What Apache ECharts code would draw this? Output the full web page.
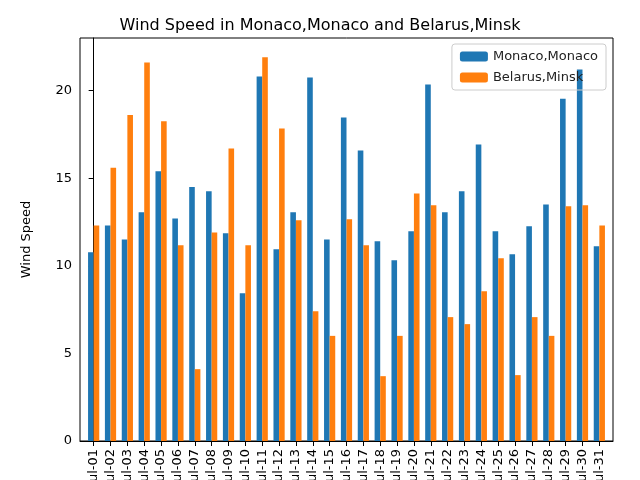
<!DOCTYPE html>
<html><head><meta charset="utf-8">
<script src="https://cdn.jsdelivr.net/npm/echarts@6/dist/echarts.min.js"></script>
<style>html,body{margin:0;padding:0;background:#fff}#c{width:640px;height:480px}</style>
</head><body><div id="c"></div>
<script>
const categories = Array.from({length:31},(_,i)=>'Jul-'+String(i+1).padStart(2,'0'));
const monaco = [10.77,12.3,11.5,13.05,15.4,12.7,14.5,14.25,11.85,8.43,20.8,10.94,13.05,20.74,11.5,18.46,16.58,11.4,10.31,11.97,20.34,13.05,14.25,16.92,11.97,10.66,12.25,13.5,19.54,21.2,11.11];
const belarus = [12.3,15.6,18.6,21.6,18.25,11.17,4.1,11.9,16.7,11.17,21.9,17.83,12.6,7.4,6.0,12.65,11.17,3.7,6.0,14.13,13.45,7.07,6.67,8.55,10.43,3.76,7.07,6.0,13.4,13.45,12.3];
const idx = categories.map((_,i)=>i);
const ch = echarts.init(document.getElementById('c'));
const ff = 'DejaVu Sans';
ch.setOption({
  animation:false,
  textStyle:{fontFamily:ff},
  title:{text:'Wind Speed in Monaco,Monaco and Belarus,Minsk',left:'center',top:13,textStyle:{fontFamily:ff,fontSize:16,fontWeight:'normal',color:'#000'}},
  legend:{top:44,right:34,orient:'vertical',itemWidth:28,itemHeight:10,itemGap:8,borderColor:'#ccc',borderWidth:1,borderRadius:3,padding:[6,8],
    textStyle:{fontFamily:ff,fontSize:13,color:'#222'},data:['Monaco,Monaco','Belarus,Minsk']},
  grid:{left:80,right:27,top:38,bottom:39,outerBoundsMode:'none',show:true,borderColor:'#000',borderWidth:1},
  xAxis:{type:'value',min:-0.81,max:30.81,splitLine:{show:false},axisLine:{lineStyle:{color:'#000'}},
    axisTick:{customValues:idx,lineStyle:{color:'#000'}},
    axisLabel:{customValues:idx,formatter:v=>categories[Math.round(v)],rotate:90,color:'#000',fontSize:13,fontFamily:ff}},
  yAxis:{type:'value',min:0,max:23,interval:5,name:'Wind Speed',nameLocation:'middle',nameGap:47,nameTextStyle:{color:'#000',fontSize:13,fontFamily:ff},
    splitLine:{show:false},axisLine:{show:true,lineStyle:{color:'#000'}},axisTick:{show:true,lineStyle:{color:'#000'}},
    axisLabel:{color:'#000',fontSize:13,fontFamily:ff,showMaxLabel:false}},
  series:[
    {name:'Monaco,Monaco',type:'bar',data:monaco.map((v,i)=>[i,v]),barWidth:5.6,barGap:'0%',itemStyle:{color:'#1f77b4'}},
    {name:'Belarus,Minsk',type:'bar',data:belarus.map((v,i)=>[i,v]),barWidth:5.6,barGap:'0%',itemStyle:{color:'#ff7f0e'}}
  ]
});
</script></body></html>
